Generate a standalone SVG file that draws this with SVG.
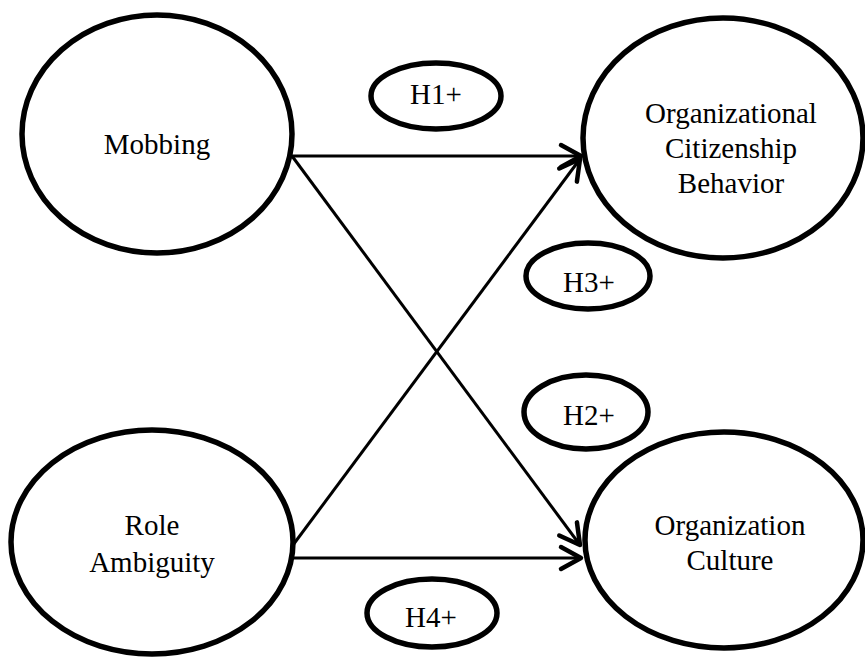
<svg xmlns="http://www.w3.org/2000/svg" width="865" height="657" viewBox="0 0 865 657">
<style>
.big{fill:#fff;stroke:#000;stroke-width:5.5}
.sm{fill:#fff;stroke:#000;stroke-width:5.5}
text{font-family:"Liberation Serif","Times New Roman",serif;font-size:29px;fill:#000;text-anchor:middle}
.conn line{stroke:#000;stroke-width:3}
</style>
<defs>
<marker id="arr" markerUnits="userSpaceOnUse" markerWidth="30" markerHeight="30" viewBox="-25 -15 30 30" refX="0" refY="0" orient="auto">
<path d="M-20,-11 L0,0 L-20,11" fill="none" stroke="#000" stroke-width="4.5" stroke-linecap="round" stroke-linejoin="round"/>
</marker>
</defs>
<g class="conn" id="connectors">
<line x1="292" y1="156" x2="581" y2="156" marker-end="url(#arr)"/>
<line x1="292" y1="156" x2="580" y2="545" marker-end="url(#arr)"/>
<line x1="293" y1="545" x2="580" y2="159" marker-end="url(#arr)"/>
<line x1="293" y1="558" x2="581" y2="558" marker-end="url(#arr)"/>
</g>
<g id="mobbing"><ellipse class="big" cx="157" cy="134" rx="135" ry="119"/><text x="157" y="154">Mobbing</text></g>
<g id="role"><ellipse class="big" cx="152" cy="542" rx="141" ry="112"/><text x="152" y="535">Role</text><text x="152" y="572">Ambiguity</text></g>
<g id="ocb"><ellipse class="big" cx="723" cy="138" rx="140" ry="120"/><text x="731" y="123">Organizational</text><text x="731" y="158">Citizenship</text><text x="731" y="193">Behavior</text></g>
<g id="oc"><ellipse class="big" cx="724" cy="540" rx="139" ry="108"/><text x="730" y="535">Organization</text><text x="730" y="570">Culture</text></g>
<g id="h1"><ellipse class="sm" cx="436" cy="96" rx="65" ry="33"/><text x="436" y="104">H1+</text></g>
<g id="h3"><ellipse class="sm" cx="588" cy="276" rx="62" ry="33"/><text x="589" y="292">H3+</text></g>
<g id="h2"><ellipse class="sm" cx="586" cy="412" rx="62" ry="37"/><text x="589" y="425">H2+</text></g>
<g id="h4"><ellipse class="sm" cx="432" cy="613" rx="65" ry="34"/><text x="431" y="627">H4+</text></g>
</svg>
